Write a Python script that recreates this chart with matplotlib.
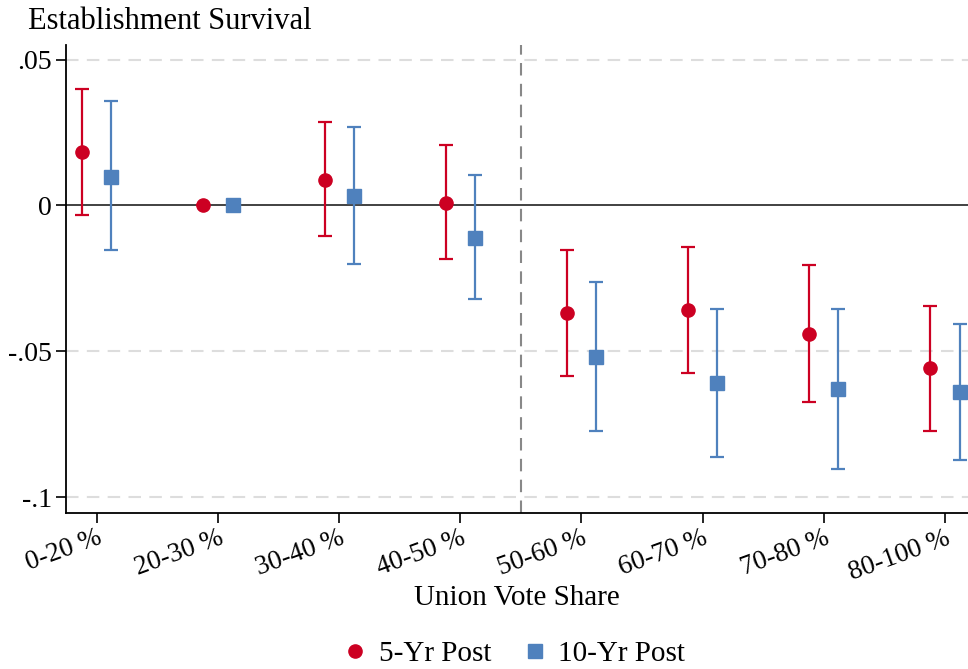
import matplotlib
matplotlib.use("Agg")
import matplotlib.pyplot as plt
from matplotlib.lines import Line2D
import numpy as np

categories = ["0-20 %", "20-30 %", "30-40 %", "40-50 %", "50-60 %", "60-70 %", "70-80 %", "80-100 %"]

est_5yr = [0.0182, 0.0, 0.0089, 0.0010, -0.0369, -0.0359, -0.0439, -0.0559]
lo_5yr = [-0.0034, 0.0, -0.0106, -0.0185, -0.0584, -0.0575, -0.0675, -0.0774]
hi_5yr = [0.0398, 0.0, 0.0288, 0.0206, -0.0154, -0.0144, -0.0203, -0.0344]

est_10yr = [0.0099, 0.0, 0.0031, -0.0110, -0.0520, -0.0609, -0.0631, -0.0640]
lo_10yr = [-0.0151, 0.0, -0.0202, -0.0322, -0.0774, -0.0864, -0.0903, -0.0874]
hi_10yr = [0.0357, 0.0, 0.0268, 0.0106, -0.0264, -0.0354, -0.0354, -0.0405]

yticks = [0.05, 0.0, -0.05, -0.1]
ytick_labels = [".05", "0", "-.05", "-.1"]

RED = "#CC0022"
BLUE = "#4F81BD"
FONT = "Liberation Serif"

plt.rcParams["font.family"] = [FONT, "DejaVu Serif"]

fig = plt.figure(figsize=(9.68, 6.69), dpi=100)
ax = fig.add_axes([0.068, 0.233, 0.932, 0.70])

x = np.arange(len(categories))
off = 0.12

ax.axhline(0, color="#333333", lw=1.3, zorder=1)
for yv in [0.05, -0.05, -0.1]:
    ax.axhline(yv, color="#DDDDDD", lw=1.5, ls=(0, (6, 4)), zorder=0)
ax.axvline(3.5, color="#888888", lw=1.5, ls=(0, (6, 4)), zorder=1)

e5 = np.array(est_5yr)
e10 = np.array(est_10yr)
yerr5 = [e5 - np.array(lo_5yr), np.array(hi_5yr) - e5]
yerr10 = [e10 - np.array(lo_10yr), np.array(hi_10yr) - e10]

ax.errorbar(x - off, e5, yerr=yerr5, fmt="o", color=RED, ms=9.5, elinewidth=1.6,
            capsize=4.8, capthick=1.6, zorder=3, label="5-Yr Post")
ax.errorbar(x + off, e10, yerr=yerr10, fmt="s", color=BLUE, ms=9.5, elinewidth=1.6,
            capsize=4.8, capthick=1.6, zorder=3, label="10-Yr Post")

ax.set_xlim(-0.256, 7.19)
ax.set_ylim(-0.1055, 0.0551)
ax.set_xticks(x)
ax.set_xticklabels(categories, rotation=20, ha="right", rotation_mode="anchor", fontsize=19.5)
ax.set_yticks(yticks)
ax.set_yticklabels(ytick_labels, fontsize=20)
ax.tick_params(axis="both", direction="out", length=7, width=1.2, colors="black")
ax.tick_params(axis="x", pad=2)
ax.tick_params(axis="y", pad=3)

for s in ["top", "right"]:
    ax.spines[s].set_visible(False)
for s in ["left", "bottom"]:
    ax.spines[s].set_linewidth(1.3)

fig.text(0.534, 1 - 598 / 669, "Union Vote Share", fontsize=21, ha="center", va="center")
fig.text(0.029, 0.968, "Establishment Survival", fontsize=22, ha="left", va="center")

h1 = Line2D([], [], marker="o", color=RED, ls="none", ms=9.5)
h2 = Line2D([], [], marker="s", color=BLUE, ls="none", ms=9.5)
fig.legend([h1, h2], ["5-Yr Post", "10-Yr Post"], loc="center", bbox_to_anchor=(0.53, 0.022),
           ncol=2, frameon=False, fontsize=21, handletextpad=0.3, columnspacing=1.0,
           handlelength=1.0)

fig.savefig("out.png", dpi=100)
